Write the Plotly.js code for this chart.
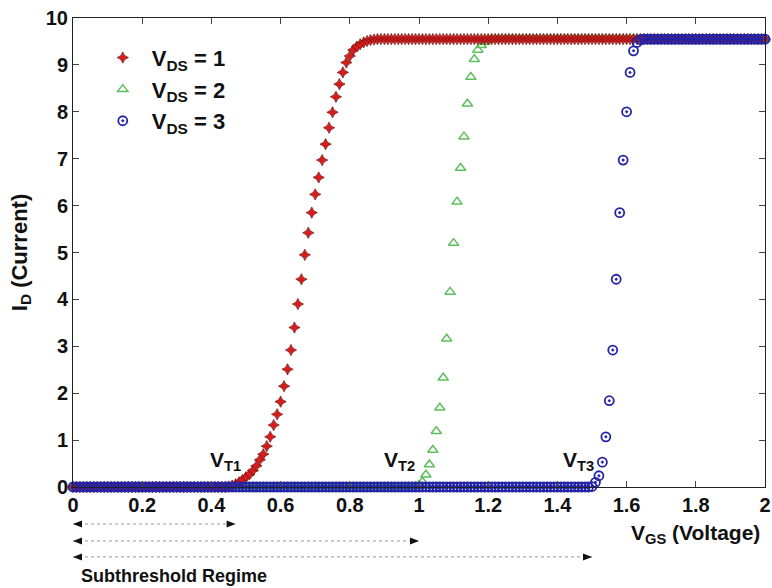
<!DOCTYPE html>
<html>
<head>
<meta charset="utf-8">
<script src="https://cdn.plot.ly/plotly-3.0.1.min.js"></script>
<style>html,body{margin:0;padding:0;background:#fff;}#chart{width:772px;height:588px;}</style>
</head>
<body>
<div id="chart"></div>
<script>
// Sampling grid of V_GS (0 to 2 V, step 0.01)
const VGS = Array.from({length: 201}, (_, i) => i / 100);

// I_D for V_DS = 1
const ID_VDS1 = [
0,0,0,0,0,0,0,0,0,0,
0,0,0,0,0,0,0,0,0,0,
0,0,0,0,0,0,0,0,0,0,
0,0,0,0,0,0,0,0,0,0,
0,0,0,0,0,
0.01,0.03,0.06,0.10,0.15,0.21,0.27,0.35,0.45,0.58,
0.70,0.87,1.07,1.32,1.55,1.82,2.15,2.51,2.92,3.40,
3.90,4.43,4.95,5.42,5.85,6.24,6.60,6.97,7.31,7.66,
7.99,8.32,8.59,8.84,9.05,9.19,9.32,9.39,9.44,9.48,
9.51,9.53,9.54,
9.55,9.55,9.55,9.55,9.55,9.55,9.55,9.55,9.55,9.55,
9.55,9.55,9.55,9.55,9.55,9.55,9.55,9.55,9.55,9.55,
9.55,9.55,9.55,9.55,9.55,9.55,9.55,9.55,9.55,9.55,
9.55,9.55,9.55,9.55,9.55,9.55,9.55,9.55,9.55,9.55,
9.55,9.55,9.55,9.55,9.55,9.55,9.55,9.55,9.55,9.55,
9.55,9.55,9.55,9.55,9.55,9.55,9.55,9.55,9.55,9.55,
9.55,9.55,9.55,9.55,9.55,9.55,9.55,9.55,9.55,9.55,
9.55,9.55,9.55,9.55,9.55,9.55,9.55,9.55,9.55,9.55,
9.55,9.55,9.55,9.55,9.55,9.55,9.55,9.55,9.55,9.55,
9.55,9.55,9.55,9.55,9.55,9.55,9.55,9.55,9.55,9.55,
9.55,9.55,9.55,9.55,9.55,9.55,9.55,9.55,9.55,9.55,
9.55,9.55,9.55
];

// I_D for V_DS = 2
const ID_VDS2 = [
0,0,0,0,0,0,0,0,0,0,
0,0,0,0,0,0,0,0,0,0,
0,0,0,0,0,0,0,0,0,0,
0,0,0,0,0,0,0,0,0,0,
0,0,0,0,0,0,0,0,0,0,
0,0,0,0,0,0,0,0,0,0,
0,0,0,0,0,0,0,0,0,0,
0,0,0,0,0,0,0,0,0,0,
0,0,0,0,0,0,0,0,0,0,
0,0,0,0,0,0,0,0,0,
0.01,0.04,0.11,0.26,0.48,0.79,1.19,1.69,2.33,3.16,
4.16,5.20,6.08,6.80,7.47,8.17,8.74,9.12,9.32,9.42,
9.49,9.53,
9.55,9.55,9.55,9.55,9.55,9.55,9.55,9.55,9.55,9.55,
9.55,9.55,9.55,9.55,9.55,9.55,9.55,9.55,9.55,9.55,
9.55,9.55,9.55,9.55,9.55,9.55,9.55,9.55,9.55,9.55,
9.55,9.55,9.55,9.55,9.55,9.55,9.55,9.55,9.55,9.55,
9.55,9.55,9.55,9.55,9.55,9.55,9.55,9.55,9.55,9.55,
9.55,9.55,9.55,9.55,9.55,9.55,9.55,9.55,9.55,9.55,
9.55,9.55,9.55,9.55,9.55,9.55,9.55,9.55,9.55,9.55,
9.55,9.55,9.55,9.55,9.55,9.55,9.55,9.55,9.55,9.55
];

// I_D for V_DS = 3
const ID_VDS3 = [
0,0,0,0,0,0,0,0,0,0,
0,0,0,0,0,0,0,0,0,0,
0,0,0,0,0,0,0,0,0,0,
0,0,0,0,0,0,0,0,0,0,
0,0,0,0,0,0,0,0,0,0,
0,0,0,0,0,0,0,0,0,0,
0,0,0,0,0,0,0,0,0,0,
0,0,0,0,0,0,0,0,0,0,
0,0,0,0,0,0,0,0,0,0,
0,0,0,0,0,0,0,0,0,0,
0,0,0,0,0,0,0,0,0,0,
0,0,0,0,0,0,0,0,0,0,
0,0,0,0,0,0,0,0,0,0,
0,0,0,0,0,0,0,0,0,0,
0,0,0,0,0,0,0,0,0,0,
0.01,0.10,0.24,0.53,1.07,1.84,2.92,4.43,5.85,6.97,
8.00,8.84,9.30,9.48,9.54,
9.55,9.55,9.55,9.55,9.55,9.55,9.55,9.55,9.55,9.55,
9.55,9.55,9.55,9.55,9.55,9.55,9.55,9.55,9.55,9.55,
9.55,9.55,9.55,9.55,9.55,9.55,9.55,9.55,9.55,9.55,
9.55,9.55,9.55,9.55,9.55,9.55
];

const SERIES_NAMES = ['V<sub>DS</sub> = 1', 'V<sub>DS</sub> = 2', 'V<sub>DS</sub> = 3'];
const X_TICKS = [0, 0.2, 0.4, 0.6, 0.8, 1, 1.2, 1.4, 1.6, 1.8, 2];
const Y_TICKS = [0, 1, 2, 3, 4, 5, 6, 7, 8, 9, 10];
// Threshold voltages (end of the subthreshold regime for each V_DS)
const VT_LABELS = ['V<sub>T1</sub>', 'V<sub>T2</sub>', 'V<sub>T3</sub>'];
const VT_VALUES = [0.47, 1.0, 1.5];
const VT_LABEL_X = [0.44, 0.945, 1.46];

const FONT = 'Liberation Sans, Arial, Helvetica, sans-serif';
const BOLD = (size) => ({family: FONT, size: size, color: '#111', weight: 'bold'});

const traces = [
  {
    x: VGS, y: ID_VDS2, name: SERIES_NAMES[1], type: 'scatter', mode: 'markers',
    legendrank: 2, legendgroup: 'g2', cliponaxis: false,
    marker: {symbol: 'triangle-up-open', size: 9, color: '#5cbf5c', line: {width: 1.5, color: '#5cbf5c'}}
  },
  {
    x: VGS, y: ID_VDS1, name: SERIES_NAMES[0], type: 'scatter', mode: 'markers',
    legendrank: 1, legendgroup: 'g1', cliponaxis: false,
    marker: {symbol: 'star-diamond', size: 8, color: '#d81c1c', line: {width: 0.8, color: '#7a1212'}}
  },
  {
    x: VGS, y: ID_VDS3, name: SERIES_NAMES[2], type: 'scatter', mode: 'markers',
    legendrank: 3, legendgroup: 'g3', cliponaxis: false,
    marker: {symbol: 'circle-open-dot', size: 9, color: '#2424a8', line: {width: 1.8, color: '#2424a8'}}
  }
];

const arrowRows = [-0.079, -0.115, -0.149];
const shapes = [];
VT_VALUES.forEach((v, k) => {
  shapes.push({type: 'line', xref: 'x', yref: 'paper', x0: 0, x1: v, y0: arrowRows[k], y1: arrowRows[k],
    line: {color: '#9a9a9a', width: 1, dash: 'dot'}});
  // arrowheads (pixel-sized triangles anchored at the ends)
  shapes.push({type: 'path', xref: 'x', yref: 'paper', xsizemode: 'pixel', ysizemode: 'pixel',
    xanchor: 0, yanchor: arrowRows[k], path: 'M0,0 L9,3.5 L9,-3.5 Z',
    fillcolor: '#111', line: {width: 0}});
  shapes.push({type: 'path', xref: 'x', yref: 'paper', xsizemode: 'pixel', ysizemode: 'pixel',
    xanchor: v, yanchor: arrowRows[k], path: 'M0,0 L-9,3.5 L-9,-3.5 Z',
    fillcolor: '#111', line: {width: 0}});
});

const annotations = [];
VT_LABELS.forEach((t, k) => {
  annotations.push({xref: 'x', yref: 'y', x: VT_LABEL_X[k], y: 0.55, text: t, showarrow: false, font: BOLD(21)});
});
annotations.push({xref: 'paper', yref: 'paper', x: 0.996, y: -0.1, xanchor: 'right', yanchor: 'middle',
  text: 'V<sub>GS</sub> (Voltage)', showarrow: false, font: BOLD(21)});
annotations.push({xref: 'paper', yref: 'paper', x: 0.008, y: -0.19, xanchor: 'left', yanchor: 'middle',
  text: 'Subthreshold Regime', showarrow: false, font: BOLD(18)});

const layout = {
  width: 772, height: 588,
  margin: {l: 73, r: 7, t: 18, b: 101},
  paper_bgcolor: '#fff', plot_bgcolor: '#fff',
  font: {family: FONT, color: '#111'},
  showlegend: true,
  legend: {x: 0.03, y: 0.96, xanchor: 'left', yanchor: 'top', bgcolor: 'rgba(255,255,255,0)',
    borderwidth: 0, tracegroupgap: 22, traceorder: 'normal', itemwidth: 48,
    font: BOLD(22)},
  xaxis: {range: [0, 2], tickvals: X_TICKS, ticktext: X_TICKS.map(String), ticks: 'inside', ticklen: 6,
    showline: true, mirror: 'ticks', linecolor: '#222', linewidth: 1, showgrid: false, zeroline: false,
    tickfont: BOLD(20)},
  yaxis: {range: [0, 10], tickvals: Y_TICKS, ticks: 'inside', ticklen: 6,
    showline: true, mirror: 'ticks', linecolor: '#222', linewidth: 1, showgrid: false, zeroline: false,
    tickfont: BOLD(20),
    title: {text: 'I<sub>D</sub> (Current)', standoff: 12, font: BOLD(22)}},
  shapes: shapes,
  annotations: annotations
};

Plotly.newPlot('chart', traces, layout, {displayModeBar: false, staticPlot: true});
</script>
</body>
</html>
